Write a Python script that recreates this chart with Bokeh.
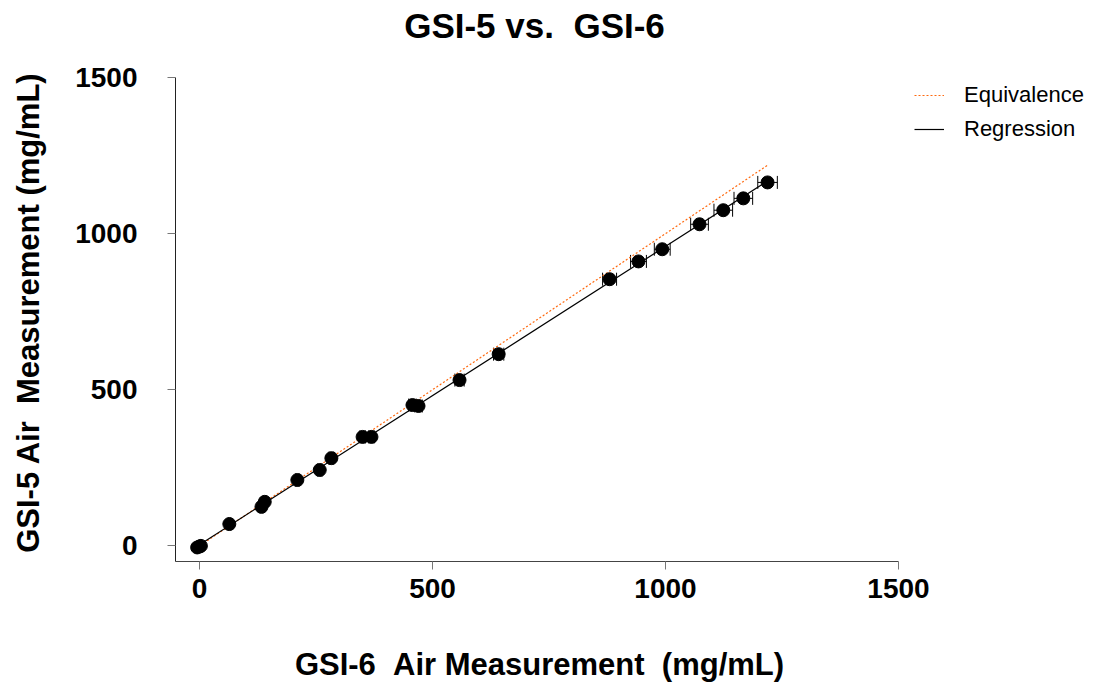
import numpy as np
from bokeh.plotting import figure
from bokeh.models import (ColumnDataSource, Whisker, TeeHead, Legend, LegendItem,
                          FixedTicker, Range1d, Label)
from bokeh.embed import file_html
from bokeh.resources import INLINE

# ---- data ----
gsi6 = [-5, 0, 3, 64, 133, 140, 210, 258, 283, 350, 369, 457, 470, 558, 642,
        880, 942, 993, 1073, 1124, 1167, 1219]
gsi5 = [-5, -2, 0, 70, 125, 141, 211, 243, 281, 349, 349, 451, 448, 531, 614,
        854, 911, 950, 1030, 1075, 1113, 1164]
gsi6_err = [1, 1, 1, 2, 3, 3, 4, 5, 5, 6, 6, 8, 8, 10, 11,
            15, 17, 17, 19, 20, 20, 21]
x_ticks = [0, 500, 1000, 1500]
y_ticks = [0, 500, 1000, 1500]
x_lim = (-51.5, 1500)
y_lim = (-50, 1500)

NB = "\u00a0"
title_text = "GSI-5 vs." + NB + NB + "GSI-6"
x_label = "GSI-6" + NB + NB + "Air Measurement" + NB + NB + "(mg/mL)"
y_label = "GSI-5 Air" + NB + NB + "Measurement (mg/mL)"

FONT = "Liberation Sans"

# ---- layout (pixels): the frame fills the canvas, axes sit at fixed locations ----
W, H = 1100, 683
AX_LEFT, AX_RIGHT, AX_TOP, AX_BOTTOM = 175, 898, 77, 561   # axes box in the page
kx = (x_lim[1] - x_lim[0]) / (AX_RIGHT - AX_LEFT)
ky = (y_lim[1] - y_lim[0]) / (AX_BOTTOM - AX_TOP)
x_range = Range1d(x_lim[0] - AX_LEFT * kx, x_lim[0] + (W - AX_LEFT) * kx)
y_range = Range1d(y_lim[0] - (H - AX_BOTTOM) * ky, y_lim[1] + AX_TOP * ky)

x = np.array(gsi6, dtype=float)
y = np.array(gsi5, dtype=float)
err = np.array(gsi6_err, dtype=float)

slope, intercept = np.polyfit(x, y, 1)
xline = np.array([x.min(), x.max()])

src = ColumnDataSource(dict(x=x, y=y, lo=x - err, hi=x + err))

p = figure(width=W, height=H, output_backend="svg", toolbar_location=None,
           x_range=x_range, y_range=y_range, min_border=0)

p.grid.visible = False
p.outline_line_color = None
p.background_fill_color = "white"
p.border_fill_color = "white"

for ax, ticks, lim, loc in ((p.xaxis[0], x_ticks, x_lim, y_lim[0]),
                            (p.yaxis[0], y_ticks, y_lim, x_lim[0])):
    ax.ticker = FixedTicker(ticks=ticks)
    ax.bounds = lim
    ax.fixed_location = loc
    ax.minor_tick_line_color = None
    ax.major_tick_in = 0
    ax.major_tick_out = 8
    ax.major_tick_line_color = "#777777"
    ax.major_label_text_font = FONT
    ax.major_label_text_font_size = "28px"
    ax.major_label_text_font_style = "bold"
    ax.major_label_text_color = "black"

p.xaxis.axis_line_color = "#444444"
p.yaxis.axis_line_color = "#222222"
p.xaxis.major_label_standoff = 9
p.yaxis.major_label_standoff = 30

def screen_label(text, cx, cy, size, angle=0.0):
    # cx, cy: centre of the text in page pixels from the top-left corner
    return Label(x=cx, y=H - cy, x_units="screen", y_units="screen", text=text,
                 angle=angle, text_font=FONT, text_font_size=size,
                 text_font_style="bold", text_color="black",
                 text_align="center", text_baseline="middle")

p.add_layout(screen_label(title_text, 534, 25, "35px"))
p.add_layout(screen_label(x_label, 539, 664, "31px"))
p.add_layout(screen_label(y_label, 28, 312, "31px", angle=np.pi / 2))

# equivalence line
eq = p.line(xline, xline, line_color="#FF6A10", line_dash="2 2", line_width=1.2)
# regression line
reg = p.line(xline, slope * xline + intercept, line_color="black", line_width=1.2)

# error bars
wh = Whisker(source=src, base="y", lower="lo", upper="hi", dimension="width",
             line_color="black", line_width=1,
             lower_head=TeeHead(size=13, line_color="black", line_width=1),
             upper_head=TeeHead(size=13, line_color="black", line_width=1))
p.add_layout(wh)

p.scatter("x", "y", source=src, size=13, fill_color="black", line_color="black")

legend = Legend(items=[LegendItem(label="Equivalence", renderers=[eq]),
                       LegendItem(label="Regression", renderers=[reg])],
                location=(914, H - 142))
legend.border_line_color = None
legend.background_fill_alpha = 0
legend.label_text_font = FONT
legend.label_text_font_size = "22px"
legend.label_text_color = "black"
legend.glyph_width = 30
legend.label_standoff = 20
legend.spacing = 8
legend.padding = 4
legend.margin = 0
p.add_layout(legend)

open("out.html", "w").write(file_html(p, INLINE))
